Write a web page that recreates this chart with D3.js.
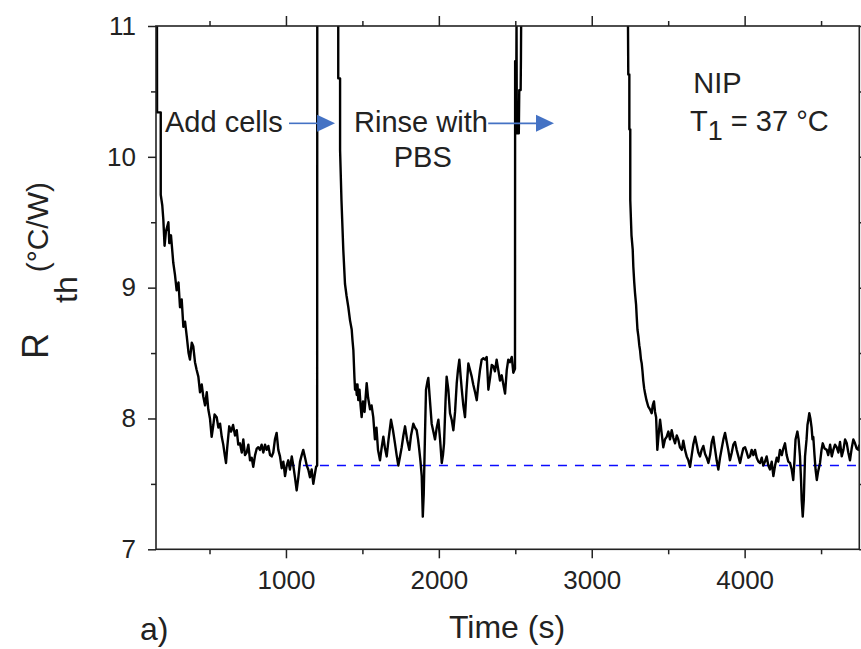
<!DOCTYPE html>
<html>
<head>
<meta charset="utf-8">
<script src="https://cdn.jsdelivr.net/npm/d3@7"></script>
<style>
  body { margin: 0; background: #fff; }
  svg text { font-family: "Liberation Sans", Arial, sans-serif; fill: #222; }
</style>
</head>
<body>
<div id="chart"></div>
<script>
// phase 1: after adding cells
const addCellsTime = [156, 157, 181, 181, 191, 198, 206, 215, 231, 237, 248, 263, 274, 285, 297, 307, 318, 329, 340, 351,
  363, 372, 384, 394, 405, 416, 427, 438, 449, 459, 471, 482, 492, 503, 514, 525, 533, 547, 558, 569,
  580, 590, 601, 608, 616, 629, 641, 654, 667, 678, 688, 699, 711, 721, 732, 743, 754, 765, 776, 786,
  798, 809, 819, 830, 841, 852, 863, 874, 885, 896, 907, 917, 928, 939, 950, 961, 972, 983, 994, 1005,
  1015, 1026, 1038, 1048, 1059, 1070, 1081, 1092, 1103, 1113, 1125, 1136, 1146, 1157, 1168, 1179, 1187, 1197, 1204, 1205];
const addCellsRth = [11.3, 10.34, 10.34, 9.71, 9.63, 9.52, 9.32, 9.43, 9.50, 9.34, 9.40, 9.19, 9.10, 8.98, 9.04, 8.85, 8.91, 8.70, 8.74, 8.63,
  8.50, 8.45, 8.58, 8.55, 8.43, 8.37, 8.32, 8.20, 8.26, 8.17, 8.10, 8.20, 8.07, 8.00, 7.86, 7.95, 8.03, 8.01, 7.93, 7.96,
  7.86, 7.80, 7.71, 7.66, 7.78, 7.94, 7.90, 7.95, 7.87, 7.91, 7.80, 7.81, 7.74, 7.84, 7.72, 7.74, 7.80, 7.68, 7.70, 7.63,
  7.72, 7.77, 7.78, 7.76, 7.80, 7.74, 7.80, 7.76, 7.79, 7.72, 7.71, 7.74, 7.84, 7.89, 7.76, 7.71, 7.62, 7.67, 7.56, 7.64,
  7.68, 7.61, 7.71, 7.64, 7.55, 7.45, 7.55, 7.67, 7.72, 7.76, 7.70, 7.64, 7.61, 7.55, 7.61, 7.50, 7.56, 7.63, 7.64, 11.6];

// phase 2: rinse with PBS
const rinseTime = [1342, 1342, 1354, 1354, 1363, 1375, 1386, 1396, 1408, 1419, 1430, 1435, 1441, 1448, 1452, 1458, 1463, 1468, 1473, 1481,
  1488, 1495, 1504, 1514, 1528, 1537, 1550, 1560, 1571, 1582, 1592, 1602, 1615, 1625, 1637, 1648, 1659, 1671, 1687, 1700,
  1713, 1724, 1735, 1746, 1757, 1768, 1779, 1792, 1807, 1818, 1833, 1844, 1855, 1864, 1872, 1880, 1888, 1895, 1901, 1910,
  1916, 1925, 1931, 1939, 1953, 1964, 1975, 1986, 1997, 2008, 2019, 2027, 2034, 2044, 2051, 2062, 2073, 2084, 2095, 2106,
  2117, 2125, 2134, 2142, 2150, 2160, 2171, 2181, 2193, 2204, 2215, 2225, 2237, 2248, 2258, 2269, 2280, 2291, 2302, 2313,
  2324, 2335, 2346, 2356, 2367, 2378, 2389, 2400, 2411, 2422, 2433, 2444, 2454, 2465, 2477, 2487, 2498, 2499, 2507, 2508,
  2510, 2523, 2526, 2535, 2537, 2541];
const rinseRth = [11.6, 10.60, 10.60, 10.05, 9.67, 9.29, 9.03, 8.94, 8.85, 8.75, 8.68, 8.60, 8.52, 8.31, 8.22, 8.26, 8.18, 8.26, 8.14, 8.22,
  8.10, 8.01, 8.13, 8.05, 8.27, 8.16, 8.07, 8.10, 8.01, 7.84, 7.93, 7.76, 7.68, 7.77, 7.86, 7.77, 7.71, 7.84, 7.99, 7.91,
  7.81, 7.72, 7.64, 7.71, 7.78, 7.87, 7.94, 7.84, 7.76, 7.87, 7.96, 7.93, 7.91, 7.84, 7.76, 7.67, 7.56, 7.25, 7.42, 7.91,
  8.22, 8.28, 8.31, 8.18, 7.96, 7.90, 7.84, 7.93, 7.99, 7.84, 7.66, 7.72, 7.81, 8.14, 8.32, 8.22, 8.04, 7.99, 7.91, 8.05,
  8.27, 8.37, 8.45, 8.33, 8.22, 8.10, 8.01, 8.22, 8.42, 8.37, 8.32, 8.26, 8.20, 8.14, 8.26, 8.37, 8.45, 8.46, 8.45, 8.47,
  8.22, 8.31, 8.41, 8.40, 8.36, 8.45, 8.37, 8.29, 8.33, 8.26, 8.19, 8.37, 8.45, 8.43, 8.47, 8.35, 8.38, 10.73, 10.73, 11.05,
  10.18, 10.18, 10.51, 10.51, 10.76, 11.6];

// phase 3: NIP at 37 °C
const nipTime = [3234, 3239, 3246, 3246, 3252, 3252, 3260, 3268, 3272, 3278, 3283, 3290, 3294, 3299, 3305, 3311, 3316, 3322, 3327, 3332,
  3337, 3343, 3349, 3358, 3370, 3381, 3392, 3399, 3407, 3414, 3421, 3429, 3437, 3447, 3456, 3468, 3479, 3490, 3501, 3512,
  3523, 3534, 3545, 3556, 3566, 3577, 3589, 3599, 3610, 3621, 3632, 3643, 3654, 3664, 3676, 3687, 3697, 3708, 3719, 3730,
  3741, 3752, 3763, 3774, 3785, 3795, 3806, 3817, 3828, 3839, 3850, 3861, 3872, 3883, 3893, 3904, 3916, 3926, 3937, 3948,
  3959, 3970, 3981, 3991, 4003, 4014, 4024, 4035, 4046, 4057, 4068, 4079, 4090, 4101, 4112, 4122, 4133, 4144, 4155, 4166,
  4177, 4188, 4199, 4210, 4220, 4231, 4243, 4253, 4264, 4275, 4286, 4297, 4308, 4318, 4326, 4333, 4345, 4353, 4362, 4369,
  4373, 4380, 4387, 4395, 4405, 4411, 4418, 4423, 4430, 4438, 4444, 4449, 4457, 4464, 4472, 4480, 4493, 4503, 4511, 4523,
  4537, 4547, 4559, 4570, 4580, 4591, 4602, 4613, 4624, 4635, 4646, 4657, 4668, 4678, 4689, 4700, 4711, 4722, 4733, 4744, 4750];
const nipRth = [11.6, 10.63, 10.63, 10.21, 10.21, 9.67, 9.40, 9.29, 9.16, 9.04, 8.96, 8.87, 8.78, 8.68, 8.63, 8.56, 8.52, 8.45, 8.42, 8.36,
  8.29, 8.23, 8.19, 8.14, 8.09, 8.07, 8.04, 8.10, 8.13, 8.05, 8.01, 7.76, 7.87, 7.99, 7.90, 7.78, 7.84, 7.86, 7.90, 7.84,
  7.91, 7.85, 7.81, 7.87, 7.84, 7.78, 7.76, 7.83, 7.76, 7.71, 7.68, 7.63, 7.72, 7.80, 7.86, 7.80, 7.74, 7.71, 7.76, 7.79,
  7.73, 7.70, 7.66, 7.72, 7.82, 7.86, 7.77, 7.68, 7.61, 7.70, 7.77, 7.84, 7.89, 7.82, 7.76, 7.68, 7.74, 7.80, 7.82, 7.76,
  7.71, 7.66, 7.72, 7.77, 7.78, 7.74, 7.70, 7.71, 7.76, 7.72, 7.76, 7.70, 7.67, 7.66, 7.70, 7.64, 7.67, 7.71, 7.64, 7.61,
  7.67, 7.56, 7.64, 7.70, 7.67, 7.76, 7.72, 7.77, 7.81, 7.72, 7.67, 7.66, 7.61, 7.53, 7.68, 7.84, 7.90, 7.84, 7.71, 7.53,
  7.38, 7.25, 7.38, 7.71, 7.84, 7.95, 8.00, 8.04, 8.00, 7.93, 7.84, 7.86, 7.72, 7.61, 7.53, 7.59, 7.66, 7.76, 7.81, 7.77,
  7.76, 7.72, 7.80, 7.71, 7.76, 7.80, 7.78, 7.74, 7.82, 7.71, 7.76, 7.84, 7.81, 7.74, 7.68, 7.77, 7.84, 7.81, 7.77, 7.76, 7.80];

const xMajorTicks = [1000, 2000, 3000, 4000];
const xMinorTicks = [500, 1500, 2500, 3500, 4500];
const yMajorTicks = [7, 8, 9, 10, 11];
const yMinorTicks = [7.5, 8.5, 9.5, 10.5];

// steady-state reference level (dashed)
const baselineTime = [1000, 4750];
const baselineRth = [7.64, 7.64];

function drawChart() {
    const width = 861, height = 649;
    const margin = { top: 26, left: 156, right: 1.7, bottom: 99.7 };
    const plotW = width - margin.left - margin.right;
    const plotH = height - margin.top - margin.bottom;

    const svg = d3.select('#chart').append('svg')
        .attr('width', width)
        .attr('height', height);

    const x = d3.scaleLinear().domain([150, 4750]).range([0, plotW]);
    const y = d3.scaleLinear().domain([7, 11]).range([plotH, 0]);

    const g = svg.append('g').attr('transform', `translate(${margin.left},${margin.top})`);

    g.append('clipPath').attr('id', 'plot-clip')
        .append('rect').attr('x', 0).attr('y', 0).attr('width', plotW).attr('height', plotH);

    // dashed reference line
    const baseline = baselineTime.map((t, i) => ({ t: t, r: baselineRth[i] }));
    g.append('path')
        .datum(baseline)
        .attr('fill', 'none')
        .attr('stroke', '#0a0aff')
        .attr('stroke-width', 1.6)
        .attr('stroke-dasharray', '9,8')
        .attr('d', d3.line().x(d => x(d.t)).y(d => y(d.r)));

    // the measured trace, one continuous series
    const times = addCellsTime.concat(rinseTime, nipTime);
    const values = addCellsRth.concat(rinseRth, nipRth);
    const trace = times.map((t, i) => ({ t: t, r: values[i] }));

    g.append('path')
        .datum(trace)
        .attr('clip-path', 'url(#plot-clip)')
        .attr('fill', 'none')
        .attr('stroke', '#000')
        .attr('stroke-width', 2.4)
        .attr('stroke-linejoin', 'round')
        .attr('d', d3.line().x(d => x(d.t)).y(d => y(d.r)));

    // axes: labels on bottom / left, ticks on all four sides
    const axisStyle = sel => {
        sel.select('.domain').remove();
        sel.selectAll('line').attr('stroke', '#222').attr('stroke-width', 1.5);
        sel.selectAll('text').attr('font-size', 26).attr('font-family', '"Liberation Sans", Arial, sans-serif').attr('fill', '#222');
    };

    g.append('g').attr('transform', `translate(0,${plotH})`)
        .call(d3.axisBottom(x).tickValues(xMajorTicks).tickSize(9).tickPadding(12).tickFormat(d3.format('d')))
        .call(axisStyle);
    g.append('g').attr('transform', `translate(0,${plotH})`)
        .call(d3.axisBottom(x).tickValues(xMinorTicks).tickSize(5).tickFormat(''))
        .call(axisStyle);
    g.append('g')
        .call(d3.axisTop(x).tickValues(xMajorTicks).tickSize(10).tickFormat(''))
        .call(axisStyle);
    g.append('g')
        .call(d3.axisTop(x).tickValues(xMinorTicks).tickSize(5).tickFormat(''))
        .call(axisStyle);

    g.append('g')
        .call(d3.axisLeft(y).tickValues(yMajorTicks).tickSize(8).tickPadding(12).tickFormat(d3.format('d')))
        .call(axisStyle);
    g.append('g')
        .call(d3.axisLeft(y).tickValues(yMinorTicks).tickSize(5).tickFormat(''))
        .call(axisStyle);
    g.append('g').attr('transform', `translate(${plotW},0)`)
        .call(d3.axisRight(y).tickValues(yMajorTicks).tickSize(8).tickFormat(''))
        .call(axisStyle);
    g.append('g').attr('transform', `translate(${plotW},0)`)
        .call(d3.axisRight(y).tickValues(yMinorTicks).tickSize(5).tickFormat(''))
        .call(axisStyle);

    g.append('rect')
        .attr('width', plotW).attr('height', plotH)
        .attr('fill', 'none').attr('stroke', '#222').attr('stroke-width', 1.6);

    // annotations
    const note = (t, r, txt, anchor) => g.append('text')
        .attr('x', x(t)).attr('y', y(r))
        .attr('font-size', 29)
        .attr('text-anchor', anchor || 'start')
        .text(txt);

    note(209, 10.19, 'Add cells');
    note(1883, 10.19, 'Rinse with', 'middle');
    note(1895, 9.925, 'PBS', 'middle');
    note(3664, 10.485, 'NIP');

    const tLabel = g.append('text')
        .attr('x', x(3643)).attr('y', y(10.197))
        .attr('font-size', 29);
    tLabel.append('tspan').text('T');
    tLabel.append('tspan').attr('dy', 9).attr('font-size', 27).text('1');
    tLabel.append('tspan').attr('dy', -9).text(' = 37 °C');

    const arrows = [[1020, 1321], [2323, 2753]];
    const arrowY = 10.256;
    arrows.forEach(function (a) {
        const x0 = x(a[0]), x1 = x(a[1]), yy = y(arrowY);
        g.append('line')
            .attr('x1', x0).attr('x2', x1 - 16)
            .attr('y1', yy).attr('y2', yy)
            .attr('stroke', '#4472c4').attr('stroke-width', 1.6);
        g.append('path')
            .attr('d', `M${x1},${yy}L${x1 - 18},${yy - 8.5}L${x1 - 18},${yy + 8.5}Z`)
            .attr('fill', '#4472c4');
    });

    // axis titles
    svg.append('text')
        .attr('x', 507).attr('y', 638)
        .attr('text-anchor', 'middle')
        .attr('font-size', 32)
        .text('Time (s)');

    svg.append('text')
        .attr('x', 140).attr('y', 640)
        .attr('font-size', 32)
        .text('a)');

    // R_th with a widely spaced subscript, as in the original
    const yTitle = svg.append('text')
        .attr('transform', 'translate(48,359) rotate(-90)')
        .attr('text-anchor', 'start')
        .attr('font-size', 36);
    yTitle.append('tspan').text('R');
    yTitle.append('tspan').attr('dx', 30).attr('dy', 29).attr('font-size', 32).text('th');
    yTitle.append('tspan').attr('dx', 4).attr('dy', -29).attr('font-size', 30).text('(°C/W)');
}

drawChart();
</script>
</body>
</html>
